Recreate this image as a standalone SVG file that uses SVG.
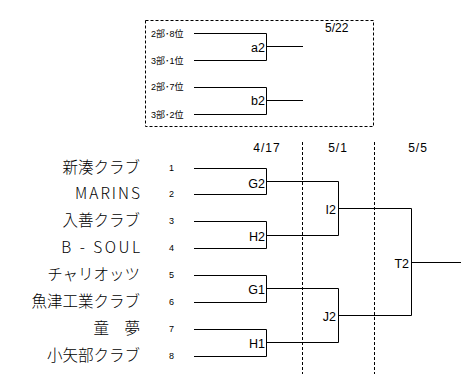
<svg xmlns="http://www.w3.org/2000/svg" width="461" height="374" viewBox="0 0 461 374">
<style>
.ln{stroke:#000;stroke-width:1;fill:none}
.ds{stroke:#000;stroke-width:1;fill:none;stroke-dasharray:3,2}
.lb{font-family:"Liberation Sans",Arial,sans-serif;font-size:12.5px;fill:#000}
.dt{font-family:"Liberation Sans",Arial,sans-serif;font-size:12px;fill:#000;text-anchor:middle;letter-spacing:1px}
.sm{font-family:"Liberation Sans","Noto Sans CJK JP",sans-serif;font-size:9px;fill:#000}
.sd{font-family:"Liberation Sans",sans-serif;font-size:9px;fill:#000}
.tm{font-family:"Noto Sans CJK JP",sans-serif;font-size:15.5px;font-weight:300;fill:#000;text-anchor:end}
</style>
<rect width="461" height="374" fill="#fff"/>
<g id="qualifier-box">
<rect class="ds" x="145.5" y="20.5" width="228" height="106"/>
<text class="lb" x="325" y="32" style="font-size:12px">5/22</text>
</g>
<g id="q-a2">
<text class="sm" x="151" y="37">2部･8位</text>
<text class="sm" x="151" y="64">3部･1位</text>
<text class="lb" x="265" y="52" text-anchor="end">a2</text>
</g>
<g id="q-b2">
<text class="sm" x="151" y="90">2部･7位</text>
<text class="sm" x="151" y="118">3部･2位</text>
<text class="lb" x="265" y="105" text-anchor="end">b2</text>
</g>
<g id="dates">
<text class="dt" x="267" y="152">4/17</text>
<text class="dt" x="338" y="152">5/1</text>
<text class="dt" x="418" y="152">5/5</text>
</g>
<g id="teams">
<text class="tm" x="140" y="173">新湊クラブ</text>
<text class="tm" x="142" y="199" style="letter-spacing:2px">MARINS</text>
<text class="tm" x="140" y="226">入善クラブ</text>
<text class="tm" x="142.5" y="253" style="letter-spacing:2.5px">B - SOUL</text>
<text class="tm" x="140" y="280">チャリオッツ</text>
<text class="tm" x="140" y="307">魚津工業クラブ</text>
<text class="tm" x="140" y="334">童　夢</text>
<text class="tm" x="140" y="361">小矢部クラブ</text>
</g>
<g id="seeds">
<text class="sd" x="169" y="171">1</text>
<text class="sd" x="169" y="197">2</text>
<text class="sd" x="169" y="224">3</text>
<text class="sd" x="169" y="251">4</text>
<text class="sd" x="169" y="278">5</text>
<text class="sd" x="169" y="305">6</text>
<text class="sd" x="169" y="332">7</text>
<text class="sd" x="169" y="359">8</text>
</g>
<g id="match-labels">
<text class="lb" x="265" y="188" text-anchor="end">G2</text>
<text class="lb" x="265" y="241" text-anchor="end">H2</text>
<text class="lb" x="265" y="294" text-anchor="end">G1</text>
<text class="lb" x="265" y="348" text-anchor="end">H1</text>
<text class="lb" x="336" y="214" text-anchor="end">I2</text>
<text class="lb" x="336" y="321" text-anchor="end">J2</text>
<text class="lb" x="409" y="268" text-anchor="end">T2</text>
</g>
<g id="connectors">
<path class="ln" d="M194 33.5H266.5V60.5H194M266.5 46.5H303"/>
<path class="ln" d="M194 87.5H266.5V114.5H194M266.5 100.5H303"/>
<path class="ln" d="M194 168.5H266.5V194.5H194M194 221.5H266.5V248.5H194M194 275.5H266.5V302.5H194M194 329.5H266.5V356.5H194"/>
<path class="ln" d="M266.5 181.5H338.5V235.5H266.5M266.5 288.5H338.5V342.5H266.5"/>
<path class="ln" d="M338.5 208.5H411.5V315.5H338.5M411.5 262.5H461"/>
<path class="ds" d="M302.5 142V374M374.5 142V374"/>
</g>
</svg>
